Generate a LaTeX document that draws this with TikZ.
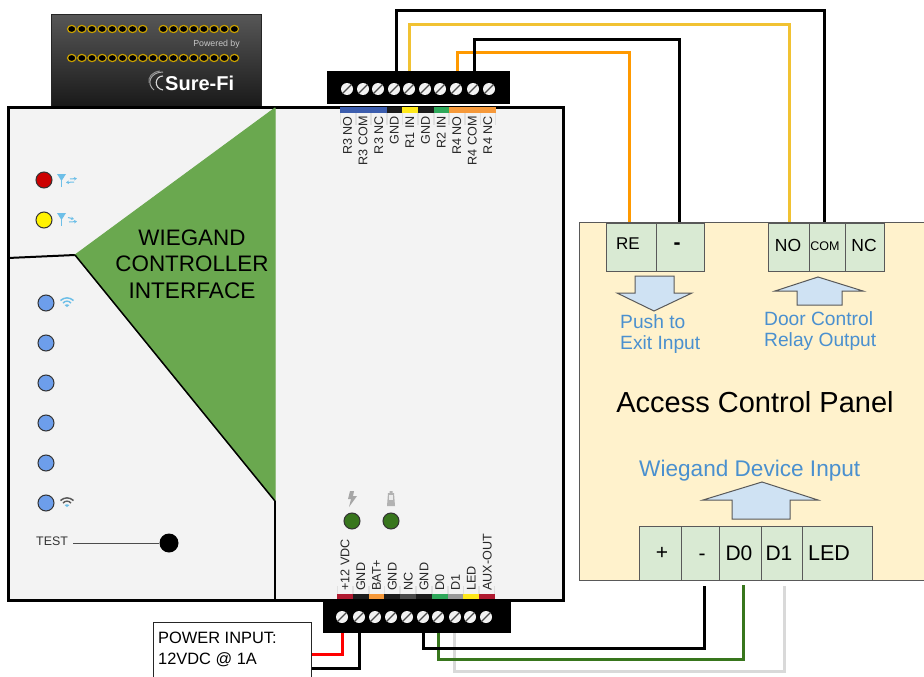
\documentclass[tikz,border=0pt]{standalone}
\usepackage{fontspec}
\setmainfont{Liberation Sans}
\usetikzlibrary{calc,arrows.meta}
\definecolor{gfill}{HTML}{6AA84F}
\definecolor{cellg}{HTML}{D9EAD3}
\definecolor{cream}{HTML}{FFF2CC}
\definecolor{arrowb}{HTML}{CFE2F3}
\definecolor{txtb}{HTML}{4A90CF}
\definecolor{panelg}{HTML}{F3F3F3}
\definecolor{linegr}{HTML}{595959}
\definecolor{ledblue}{HTML}{6D9EEB}
\definecolor{ledgreen}{HTML}{38761D}
\definecolor{wyellow}{HTML}{F1C232}
\definecolor{worange}{HTML}{FF9900}
\definecolor{wgreen}{HTML}{38761D}
\definecolor{wgrey}{HTML}{D9D9D9}
\definecolor{iconb}{HTML}{6DBFE8}
\definecolor{tblue}{HTML}{3C5DAE}
\definecolor{tgreen}{HTML}{2EA85A}
\definecolor{tred}{HTML}{B01A30}
\definecolor{torange}{HTML}{F6993A}
\definecolor{tyellow}{HTML}{FFE81A}
\definecolor{tgrey}{HTML}{999999}
\definecolor{tblack}{HTML}{1C1C1C}
\definecolor{dotgold}{HTML}{C9A000}
\tikzset{
  x=1pt,y=-1pt,
  wire/.style={line width=3pt,line join=miter},
  cell/.style={draw=linegr,line width=1pt,fill=cellg},
  bigarrow/.style={draw=linegr,line width=1pt,fill=arrowb,line join=miter},
  cap/.style={font=\fontsize{#1}{#1}\selectfont,inner sep=0pt,text=black},
  cap/.default=17,
  bluetxt/.style={font=\fontsize{#1}{#1}\selectfont,inner sep=0pt,text=txtb},
  tlabel/.style={font=\fontsize{12.6}{12.6}\selectfont,inner sep=0pt,rotate=90,text=black!85},
  screw/.style={circle,minimum size=12pt,inner sep=0pt,fill=black!5},
  led/.style={circle,draw=black!80,line width=1pt,minimum size=16pt,inner sep=0pt},
  dotg/.style={draw=dotgold,line width=1.2pt,fill=black},
  termblock/.style={fill=black,draw=none},
  tinyarrow/.style={iconb,line width=1pt,-{Stealth[length=3pt,width=3.5pt]}}
}
\newcommand{\screwmark}[2]{%
  \node[screw] (#1) at #2 {};
  \draw[black!70,line width=1.2pt] ($(#1)+(-4.5,4.5)$) -- ($(#1)+(4.5,-4.5)$);}
\newcommand{\wifi}[3]{% x,y, outer colour
  \draw[#3,line width=1.5pt] (#1-6.5,#2-1.5) .. controls (#1-2.5,#2-5) and (#1+2.5,#2-5) .. (#1+6.5,#2-1.5);
  \draw[#3,line width=1.4pt] (#1-4,#2+1) .. controls (#1-1.5,#2-1.5) and (#1+1.5,#2-1.5) .. (#1+4,#2+1);
  \fill[iconb] (#1-2.5,#2+3) .. controls (#1-1,#2+2) and (#1+1,#2+2) .. (#1+2.5,#2+3) -- (#1,#2+5) -- cycle;}
\begin{document}
\begin{tikzpicture}
\useasboundingbox (0,0) rectangle (924,677);
\clip (0,0) rectangle (924,677);

% Access control panel
\node[draw=linegr,line width=1.2pt,fill=cream,minimum width=370pt,minimum height=358pt,inner sep=0pt,anchor=north west] (acp) at (579,222) {};
\node[cap=29,anchor=center] (acptitle) at (755,402) {Access Control Panel};

% Sure-Fi module
\node[anchor=north west,minimum width=210pt,minimum height=92pt,inner sep=0pt,draw=black!85,line width=1pt,top color=black!66,bottom color=black!90] (sf) at (50.5,14) {};
\foreach \i in {0,...,7} {\draw[dotg] ({71.7+\i*10.15},29) ellipse [x radius=4.2,y radius=3.6];}
\foreach \i in {0,...,7} {\draw[dotg] ({163.3+\i*10.15},29) ellipse [x radius=4.2,y radius=3.6];}
\foreach \i in {0,...,16} {\draw[dotg] ({71.7+\i*10.17},58) ellipse [x radius=4.2,y radius=3.6];}
\node[anchor=east,inner sep=0pt,text=black!22,font=\fontsize{8.8}{8.8}\selectfont] (pw) at (240,44) {Powered by};
\node[anchor=west,inner sep=0pt,text=white,font=\fontsize{20}{20}\selectfont\bfseries] (sfn) at (165,83) {Sure-Fi};
\draw[black!15,line width=1.1pt] (163,76) .. controls (155,76) and (153,88) .. (163,90);
\draw[black!35,line width=1pt] (163,72) .. controls (150,72) and (146,84) .. (154,90);
\draw[black!45,line width=1pt] (160,71) .. controls (152,72) and (148,77) .. (149,83);

% Main housing
\node[anchor=north west,minimum width=555pt,minimum height=493pt,inner sep=0pt,draw=black,line width=3pt,fill=panelg] (main) at (6.5,106) {};
\draw[black,line width=2pt] (8,258) coordinate (dl) -- (75,255) coordinate (dr);
\fill[gfill,draw=gfill,line width=1pt,line join=round] (275,108) coordinate (gt) -- (dr) -- (275,501) coordinate (gb) -- cycle;
\draw[black,line width=1.5pt] (dr) -- (gb);
\draw[black,line width=2pt] (gb) -- (275,600) coordinate (vb);
\node[cap=22.4,anchor=center] (w1) at (192,238) {WIEGAND};
\node[cap=22.4,anchor=center] (w2) at (192,264) {CONTROLLER};
\node[cap=22.6,anchor=center] (w3) at (192,291) {INTERFACE};

% LEDs left
\node[led,fill=red!80!black] (lr) at (44,180) {};
\node[led,fill=yellow] (ly) at (44,220) {};
\foreach \n/\y in {a/303,b/343,c/383,d/423,e/463,f/503} {\node[led,fill=ledblue] (l\n) at (46,\y) {};}
% antenna icons
\foreach \yy in {174,213} {
  \draw[iconb,line width=1.6pt] (61.5,\yy) -- (61.5,\yy+13);
  \fill[iconb] (57,\yy) -- (66,\yy) -- (61.5,\yy+7) -- cycle;
}
\draw[tinyarrow] (70,179) -- (77,178.5);
\draw[tinyarrow] (74,182) -- (66,182.5);
\draw[tinyarrow] (68,217.5) -- (74,219);
\draw[tinyarrow] (69,222) -- (77,221.5);
\wifi{67}{302}{iconb}
\wifi{67}{502}{black!65}

% Test
\node[inner sep=0pt,circle,fill=black,minimum size=19pt] (tb) at (169,543) {};
\node[cap=12.4,text=black!80,anchor=west] (tt) at (36,541.5) {TEST};
\draw[black!70,line width=1pt] (73,543) coordinate (tl) -- (tb);

% Power LEDs
\node[led,fill=ledgreen] (pa) at (352,521) {};
\node[led,fill=ledgreen] (pb) at (391,521) {};
\fill[black!35] (354,491) -- (350,491) -- (348,499) -- (351,499) -- (349,507) -- (357,496) -- (353,496) -- cycle;
\fill[black!30] (388,493) -- (389.5,493) -- (389.5,491) -- (392.5,491) -- (392.5,493) -- (394,493) -- (395,506) -- (387,506) -- cycle;
\fill[black!8] (389,495) rectangle (393,500);

% Terminal tabs top
\foreach \i/\c/\t in {0/tblue/R3 NO,1/tblue/R3 COM,2/tblue/R3 NC,3/tblack/GND,4/tyellow/R1 IN,5/tblack/GND,6/tgreen/R2 IN,7/torange/R4 NO,8/torange/R4 COM,9/torange/R4 NC} {
  \fill[black!12] ({340+\i*15.6},113) rectangle ({355.6+\i*15.6},125);
  \fill[panelg] ({341+\i*15.6},113) rectangle ({354.8+\i*15.6},125);
  \fill[\c] ({340+\i*15.6},107) rectangle ({355.6+\i*15.6},113);
  \node[tlabel,anchor=east] (tl\i) at ({347.5+\i*15.6},116) {\t};
}
% Terminal tabs bottom
\foreach \i/\c/\t in {0/tred/+12 VDC,1/tblack/GND,2/torange/BAT+,3/tblack/GND,4/tblack!80/NC,5/tblack/GND,6/tgreen/D0,7/tgrey/D1,8/tyellow/LED,9/tred/AUX-OUT} {
  \fill[black!12] ({337+\i*15.8},586) rectangle ({352.8+\i*15.8},594);
  \fill[panelg] ({338+\i*15.8},586) rectangle ({352+\i*15.8},594);
  \fill[\c] ({337+\i*15.8},594) rectangle ({352.8+\i*15.8},599);
  \node[tlabel,anchor=west] (bl\i) at ({345+\i*15.8},591) {\t};
}

% Terminal blocks
\node[termblock,anchor=north west,minimum width=183pt,minimum height=33pt,inner sep=0pt] (tbk) at (327,71) {};
\node[termblock,anchor=north west,minimum width=188pt,minimum height=33pt,inner sep=0pt] (bbk) at (323,600) {};
\foreach \i/\x in {0/347,1/363,2/378,3/394,4/409,5/425,6/440,7/456,8/473,9/489} {\screwmark{ts\i}{(\x,89)}}
\foreach \i/\x in {0/342,1/359,2/375,3/391,4/407,5/423,6/438,7/455,8/470,9/486} {\screwmark{bs\i}{(\x,617)}}

% Cells
\node[cell,anchor=north west,minimum width=50pt,minimum height=48pt,inner sep=0pt] (re) at (605.5,222.5) {};
\node[cell,anchor=north west,minimum width=48pt,minimum height=48pt,inner sep=0pt] (mi) at (655.5,222.5) {};
\node[cap=17] at (628,243.5) {RE};
\node[inner sep=0pt,font=\fontsize{21}{21}\selectfont\bfseries] at (677,246.5) {-};
\node[cell,anchor=north west,minimum width=41pt,minimum height=48pt,inner sep=0pt] (no) at (767.5,222.5) {};
\node[cell,anchor=north west,minimum width=36pt,minimum height=48pt,inner sep=0pt] (com) at (808.5,222.5) {};
\node[cell,anchor=north west,minimum width=39pt,minimum height=48pt,inner sep=0pt] (nc) at (844.5,222.5) {};
\node[cap=17.5] at (788,245) {NO};
\node[cap=12.5] at (825,246) {COM};
\node[cap=17.5] at (864,245) {NC};

\node[cell,anchor=north west,minimum width=42pt,minimum height=54pt,inner sep=0pt] (cp) at (638.5,525.5) {};
\node[cell,anchor=north west,minimum width=38pt,minimum height=54pt,inner sep=0pt] (cm) at (680.5,525.5) {};
\node[cell,anchor=north west,minimum width=42pt,minimum height=54pt,inner sep=0pt] (cd0) at (718.5,525.5) {};
\node[cell,anchor=north west,minimum width=41pt,minimum height=54pt,inner sep=0pt] (cd1) at (760.5,525.5) {};
\node[cell,anchor=north west,minimum width=70pt,minimum height=54pt,inner sep=0pt] (cl) at (801.5,525.5) {};
\node[cap=21] at (662,553) {+};
\node[cap=21] at (702,557) {-};
\node[cap=21] at (739,553) {D0};
\node[cap=21] at (779,553) {D1};
\node[cap=21.5] at (829,553) {LED};

% Arrows
\draw[bigarrow] (635,276) -- (674,276) -- (674,293) -- (692,293) -- (654,311) -- (617,293) -- (635,293) -- cycle;
\draw[bigarrow] (818,277) -- (863,291) -- (842,291) -- (842,305) -- (797,305) -- (797,291) -- (775,291) -- cycle;
\draw[bigarrow] (762,482) -- (818,500) -- (790,500) -- (790,519) -- (732,519) -- (732,500) -- (703,500) -- cycle;
\node[bluetxt=19.2,anchor=west] at (620,322) {Push to};
\node[bluetxt=19.2,anchor=west] at (620,345) {Exit Input};
\node[bluetxt=19.2,anchor=west] at (764,319) {Door Control};
\node[bluetxt=19.2,anchor=west] at (764,342) {Relay Output};
\node[bluetxt=22.6,anchor=west] at (639,471) {Wiegand Device Input};

% Power input box
\node[anchor=north west,draw=black!85,line width=1pt,fill=white,minimum width=158pt,minimum height=70pt,inner sep=0pt] (pwr) at (153,622) {};
\node[cap=16.4,anchor=west] (pw1) at (158,638) {POWER INPUT:};
\node[cap=16.4,anchor=west] (pw2) at (158,660) {12VDC @ 1A};

% Wires
\coordinate (t3) at (396,71);
\coordinate (t4) at (409,71);
\coordinate (t7) at (457,71);
\coordinate (t8) at (474,71);
\coordinate (cre) at (629,222);
\coordinate (cmi) at (679,222);
\coordinate (cno) at (789,222);
\coordinate (cco) at (824,222);
\draw[wire,black] (t3) -- (t3 |- 0,11) -- (cco |- 0,11) -- (cco);
\draw[wire,wyellow] (t4) -- (t4 |- 0,25) -- (cno |- 0,25) -- (cno);
\draw[wire,worange] (t7) -- (t7 |- 0,53) -- (cre |- 0,53) -- (cre);
\draw[wire,black] (t8) -- (t8 |- 0,40) -- (cmi |- 0,40) -- (cmi);

\coordinate (b0) at (342,633);
\coordinate (b1) at (359,633);
\coordinate (b5) at (423,633);
\coordinate (b6) at (438,633);
\coordinate (b7) at (454,633);
\coordinate (cminus) at (704,586);
\coordinate (cdz) at (743,585);
\coordinate (cdo) at (784,586);
\draw[wire,red] (b0) -- (b0 |- 0,654) -- (pwr.east |- 0,654);
\draw[wire,black] (b1) -- (b1 |- 0,668) -- (pwr.east |- 0,668);
\draw[wire,wgrey] (b7) -- (b7 |- 0,671) -- (cdo |- 0,671) -- (cdo);
\draw[wire,wgreen] (b6) -- (b6 |- 0,659) -- (cdz |- 0,659) -- (cdz);
\draw[wire,black] (b5) -- (b5 |- 0,648) -- (cminus |- 0,648) -- (cminus);
\end{tikzpicture}
\end{document}
